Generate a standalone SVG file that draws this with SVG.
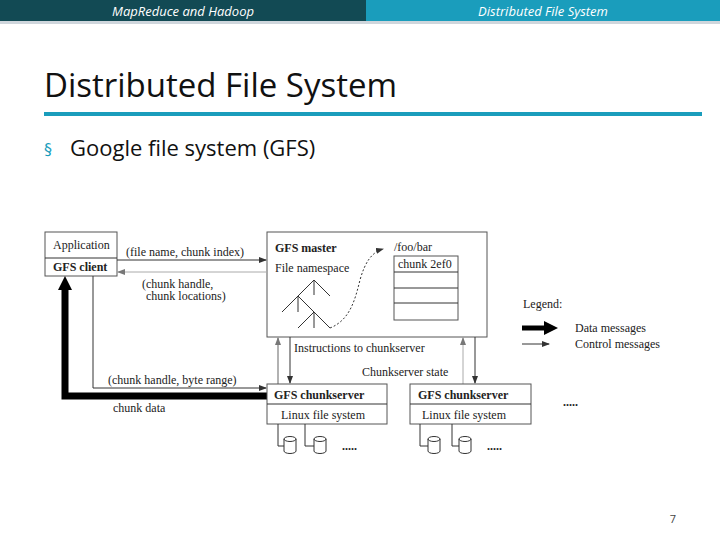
<svg xmlns="http://www.w3.org/2000/svg" width="720" height="540" viewBox="0 0 720 540">
<defs>
<style>
.s{font-family:"Liberation Serif",serif;font-size:12px;fill:#222}
.b{font-weight:bold}
.bx{fill:#fff;stroke:#555;stroke-width:1}
.ln{stroke:#333;stroke-width:1;fill:none}
.gl{stroke:#999;stroke-width:1.5;fill:none}
</style>
<marker id="ah" markerWidth="8" markerHeight="6" refX="7" refY="3" orient="auto" markerUnits="userSpaceOnUse"><path d="M0,0L8,3L0,6z" fill="#333"/></marker>
<marker id="ahg" markerWidth="8" markerHeight="6" refX="7" refY="3" orient="auto" markerUnits="userSpaceOnUse"><path d="M0,0L8,3L0,6z" fill="#777"/></marker>
<marker id="ahb" markerWidth="14" markerHeight="14" refX="4" refY="7" orient="auto" markerUnits="userSpaceOnUse"><path d="M0,0L14,7L0,14z" fill="#000"/></marker>
</defs>
<rect width="720" height="540" fill="#fff"/>
<rect x="0" y="0" width="366" height="21" fill="#124a54"/>
<rect x="366" y="0" width="354" height="21" fill="#1a9dbc"/>
<rect x="0" y="21" width="720" height="3" fill="#cfd6dc"/>
<text x="183" y="16" text-anchor="middle" font-family="Open Sans,sans-serif" font-size="13" font-style="italic" fill="#fff">MapReduce and Hadoop</text>
<text x="543" y="16" text-anchor="middle" font-family="Open Sans,sans-serif" font-size="13" font-style="italic" fill="#fff">Distributed File System</text>
<text x="44" y="97" font-family="Open Sans,sans-serif" font-size="33" fill="#111">Distributed File System</text>
<rect x="44" y="112" width="658" height="4" fill="#1a9dbc"/>
<text x="44" y="155" font-family="DejaVu Sans,sans-serif" font-size="16" fill="#1a9dbc">§</text>
<text x="70" y="156" font-family="Open Sans,sans-serif" font-size="22" fill="#111">Google file system (GFS)</text>
<text x="676" y="523" text-anchor="end" font-family="Open Sans,sans-serif" font-size="11" fill="#444">7</text>

<g id="client">
<rect x="45" y="232" width="72" height="44" class="bx"/>
<line x1="45" y1="258" x2="117" y2="258" class="ln"/>
<text x="53" y="249" class="s">Application</text>
<text x="53" y="271" class="s b">GFS client</text>
</g>

<g id="master">
<rect x="267" y="232" width="220" height="105" class="bx"/>
<text x="275" y="252" class="s b">GFS master</text>
<text x="275" y="272" class="s">File namespace</text>
<text x="394" y="251" class="s">/foo/bar</text>
<rect x="394" y="256" width="64" height="64" class="bx"/>
<line x1="394" y1="272" x2="458" y2="272" class="ln"/>
<line x1="394" y1="288" x2="458" y2="288" class="ln"/>
<line x1="394" y1="303" x2="458" y2="303" class="ln"/>
<text x="398" y="268" class="s">chunk 2ef0</text>
<path d="M282,312 L314,280 L330,296 M314,280 L314,295 M298,296 L298,312 M298,296 L330,328 M314,312 L298,328 M314,312 L314,328" class="ln"/>
</g>

<g id="connectors">
<path d="M330,328 C350,320 355,300 360,280 C365,262 372,252 383,249" stroke="#333" stroke-width="1" stroke-dasharray="2,2" fill="none" marker-end="url(#ah)"/>
<line x1="117" y1="260" x2="266" y2="260" class="ln" marker-end="url(#ah)"/>
<line x1="267" y1="272" x2="118" y2="272" stroke="#aaa" stroke-width="1" marker-end="url(#ahg)"/>
<polyline points="93,276 93,388 266,388" class="ln" marker-end="url(#ah)"/>
<polyline points="267,396 65,396 65,286" stroke="#000" stroke-width="7" fill="none" stroke-linejoin="miter" marker-end="url(#ahb)"/>
<line x1="278" y1="384" x2="278" y2="338" class="gl" marker-end="url(#ahg)"/>
<line x1="290" y1="337" x2="290" y2="383" class="ln" marker-end="url(#ah)"/>
<line x1="463" y1="384" x2="463" y2="338" stroke="#aaa" stroke-width="1" marker-end="url(#ahg)"/>
<line x1="475" y1="337" x2="475" y2="383" class="ln" marker-end="url(#ah)"/>
<line x1="522" y1="328" x2="548" y2="328" stroke="#000" stroke-width="5" marker-end="url(#ahb)"/>
<line x1="522" y1="344" x2="549" y2="344" class="ln" marker-end="url(#ah)"/>
</g>

<g id="labels">
<text x="126" y="256" class="s">(file name, chunk index)</text>
<text x="142" y="288" class="s">(chunk handle,</text>
<text x="146" y="300" class="s">chunk locations)</text>
<text x="294" y="352" class="s">Instructions to chunkserver</text>
<text x="362" y="376" class="s">Chunkserver state</text>
<text x="108" y="384" class="s">(chunk handle, byte range)</text>
<text x="113" y="412" class="s">chunk data</text>
<text x="523" y="308" class="s">Legend:</text>
<text x="575" y="332" class="s">Data messages</text>
<text x="575" y="348" class="s">Control messages</text>
<text x="563" y="406" class="s b">.....</text>
</g>

<g id="chunkserver1">
<rect x="267" y="384" width="120" height="40" class="bx"/>
<line x1="267" y1="404" x2="387" y2="404" class="ln"/>
<text x="274" y="399" class="s b">GFS chunkserver</text>
<text x="281" y="419" class="s">Linux file system</text>
<polyline points="278,424 278,446 284,446" class="ln"/>
<polyline points="305,424 305,446 314,446" class="ln"/>
<path d="M284,439 v12 a6,2.5 0 0 0 12,0 v-12 a6,2.5 0 0 0 -12,0 a6,2.5 0 0 0 12,0" class="ln" fill="#fff"/>
<path d="M314,439 v12 a6,2.5 0 0 0 12,0 v-12 a6,2.5 0 0 0 -12,0 a6,2.5 0 0 0 12,0" class="ln" fill="#fff"/>
<text x="342" y="450" class="s b">.....</text>
</g>

<g id="chunkserver2">
<rect x="410" y="384" width="121" height="40" class="bx"/>
<line x1="410" y1="404" x2="531" y2="404" class="ln"/>
<text x="418" y="399" class="s b">GFS chunkserver</text>
<text x="422" y="419" class="s">Linux file system</text>
<polyline points="420,424 420,446 428,446" class="ln"/>
<polyline points="452,424 452,446 459,446" class="ln"/>
<path d="M428,439 v12 a6,2.5 0 0 0 12,0 v-12 a6,2.5 0 0 0 -12,0 a6,2.5 0 0 0 12,0" class="ln" fill="#fff"/>
<path d="M459,439 v12 a6,2.5 0 0 0 12,0 v-12 a6,2.5 0 0 0 -12,0 a6,2.5 0 0 0 12,0" class="ln" fill="#fff"/>
<text x="487" y="450" class="s b">.....</text>
</g>
</svg>
